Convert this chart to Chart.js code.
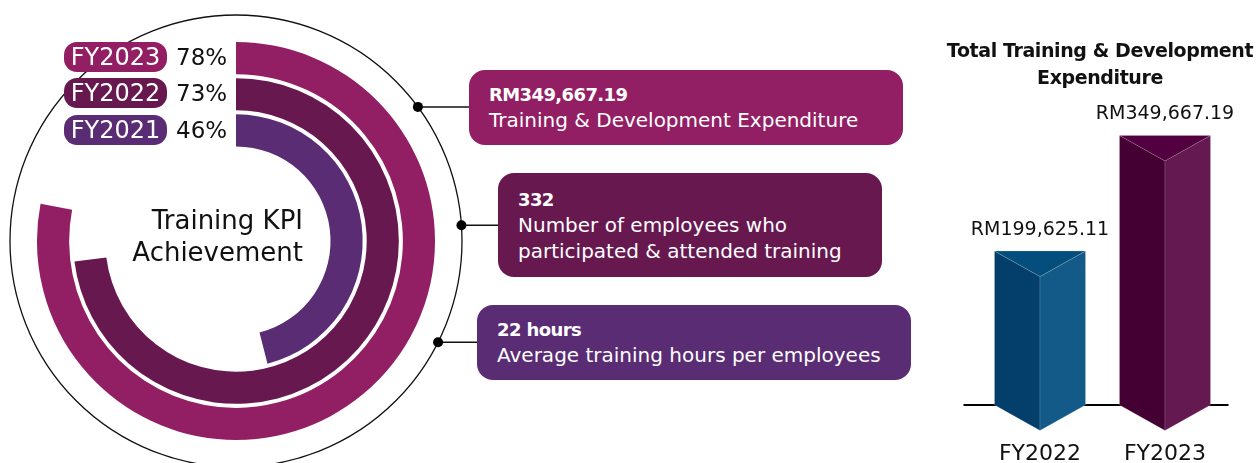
<!DOCTYPE html>
<html>
<head>
<meta charset="utf-8">
<script src="https://cdn.jsdelivr.net/npm/chart.js@4.4.0/dist/chart.umd.min.js"></script>
<style>
  html, body { margin: 0; padding: 0; background: #fff; }
  body { width: 1256px; height: 463px; position: relative; overflow: hidden; font-family: "DejaVu Sans", sans-serif; color: #111; }
  canvas { position: absolute; }
  #kpiChart { left: 0; top: 0; }
  #spendChart { left: 930px; top: 0; }
  .pill { position: absolute; left: 64px; width: 103px; height: 30px; border-radius: 13px; color: #fff; font-size: 24px; line-height: 30px; text-align: center; }
  .pct { position: absolute; left: 176px; height: 30px; font-size: 23px; line-height: 30px; }
  .center-text { position: absolute; left: 0; top: 204px; width: 303px; text-align: right; font-size: 26px; line-height: 32px; }
  .box { position: absolute; border-radius: 16px; color: #fff; box-sizing: border-box; white-space: nowrap; }
  .box .big { font-weight: bold; font-size: 18px; line-height: 24px; letter-spacing: -0.6px; }
  .box .txt { font-size: 20px; line-height: 26px; }
  .title { position: absolute; left: 900px; top: 37px; width: 400px; text-align: center; font-weight: bold; font-size: 19px; line-height: 27px; letter-spacing: -0.4px; white-space: nowrap; }
</style>
</head>
<body>
<canvas id="kpiChart" width="520" height="463"></canvas>
<canvas id="spendChart" width="326" height="463"></canvas>

<div id="pills"></div>
<div class="center-text">Training KPI<br>Achievement</div>

<div class="box" style="left:469px; top:70px; width:434px; height:75px; padding:13px 0 0 20px; background:#921f63;">
  <div class="big">RM349,667.19</div>
  <div class="txt">Training &amp; Development Expenditure</div>
</div>
<div class="box" style="left:498px; top:173px; width:384px; height:104px; padding:15px 0 0 20px; background:#66184f;">
  <div class="big">332</div>
  <div class="txt">Number of employees who</div>
  <div class="txt">participated &amp; attended training</div>
</div>
<div class="box" style="left:477px; top:305px; width:434px; height:75px; padding:13px 0 0 20px; background:#5a2c73;">
  <div class="big">22 hours</div>
  <div class="txt">Average training hours per employees</div>
</div>

<div class="title">Total Training &amp; Development<br>Expenditure</div>

<script>
// KPI rings (outer to inner)
const kpiYears = ['FY2023', 'FY2022', 'FY2021'];
const kpiValues = [78, 73, 46];

// expenditure bars
const spendYears = ['FY2022', 'FY2023'];
const spendValues = [199625.11, 349667.19];

const ringColors = ['#921f63', '#66184f', '#5a2c73'];
const prismColors = [
  { left: '#043f6b', right: '#135a88', top: '#044e7d' },
  { left: '#440033', right: '#641a51', top: '#52003f' }
];
// dots on the thin circle, angle in degrees and where the line stops (box edge)
const connectors = [
  { angle: -36.4, toX: 469 },
  { angle: -4, toX: 498 },
  { angle: 26.6, toX: 477 }
];

// year pills on the left
const pillTops = [42, 78, 115];
const pillBox = document.getElementById('pills');
kpiYears.forEach((y, i) => {
  const p = document.createElement('div');
  p.className = 'pill';
  p.style.top = pillTops[i] + 'px';
  p.style.background = ringColors[i];
  p.textContent = y;
  pillBox.appendChild(p);
  const t = document.createElement('div');
  t.className = 'pct';
  t.style.top = pillTops[i] + 'px';
  t.textContent = kpiValues[i] + '%';
  pillBox.appendChild(t);
});

const ringSets = [];
kpiValues.forEach((v, i) => {
  if (i > 0) {
    ringSets.push({ data: [100], backgroundColor: ['rgba(0,0,0,0)'], borderWidth: 0, weight: 4 });
  }
  ringSets.push({
    label: kpiYears[i],
    data: [v, 100 - v],
    backgroundColor: [ringColors[i], 'rgba(0,0,0,0)'],
    borderWidth: 0,
    weight: 32
  });
});

const ringDeco = {
  id: 'ringDeco',
  beforeDatasetsDraw(chart) {
    const arc = chart.getDatasetMeta(0).data[0];
    const ctx = chart.ctx;
    const r = arc.outerRadius + 27;
    ctx.save();
    ctx.strokeStyle = '#111';
    ctx.fillStyle = '#000';
    ctx.lineWidth = 1.3;
    ctx.beginPath();
    ctx.arc(arc.x, arc.y, r, 0, Math.PI * 2);
    ctx.stroke();
    connectors.forEach(c => {
      const a = c.angle * Math.PI / 180;
      const px = arc.x + r * Math.cos(a);
      const py = arc.y + r * Math.sin(a);
      ctx.lineWidth = 1.5;
      ctx.beginPath();
      ctx.moveTo(px, py);
      ctx.lineTo(c.toX, py);
      ctx.stroke();
      ctx.beginPath();
      ctx.arc(px, py, 5, 0, Math.PI * 2);
      ctx.fill();
    });
    ctx.restore();
  }
};

new Chart(document.getElementById('kpiChart'), {
  type: 'doughnut',
  data: { labels: ['achieved', 'remaining'], datasets: ringSets },
  options: {
    responsive: false,
    animation: false,
    events: [],
    radius: 199,
    cutout: '47.5%',
    layout: { padding: { top: 19, left: 0, right: 48, bottom: 0 } },
    plugins: { legend: { display: false }, tooltip: { enabled: false } }
  },
  plugins: [ringDeco]
});

function poly(ctx, pts, color) {
  ctx.beginPath();
  ctx.moveTo(pts[0][0], pts[0][1]);
  for (let k = 1; k < pts.length; k++) ctx.lineTo(pts[k][0], pts[k][1]);
  ctx.closePath();
  ctx.fillStyle = color;
  ctx.fill();
  ctx.strokeStyle = 'rgba(255,255,255,0.18)';
  ctx.lineWidth = 0.8;
  ctx.stroke();
}

const prismBars = {
  id: 'prismBars',
  beforeDatasetsDraw(chart) {
    const { ctx, chartArea, scales } = chart;
    const y0 = scales.y.getPixelForValue(0);
    ctx.save();
    ctx.strokeStyle = '#000';
    ctx.lineWidth = 2;
    ctx.beginPath();
    ctx.moveTo(chartArea.left - 14, y0);
    ctx.lineTo(chartArea.right + 1, y0);
    ctx.stroke();
    ctx.restore();
  },
  afterDatasetsDraw(chart) {
    const { ctx, scales } = chart;
    const meta = chart.getDatasetMeta(0);
    ctx.save();
    meta.data.forEach((bar, i) => {
      const hw = bar.width / 2;
      const d = bar.width * 0.28;
      const x = bar.x, top = bar.y, base = bar.base;
      const c = prismColors[i];
      poly(ctx, [[x - hw, top], [x, top + d], [x, base + d], [x - hw, base]], c.left);
      poly(ctx, [[x, top + d], [x + hw, top], [x + hw, base], [x, base + d]], c.right);
      poly(ctx, [[x - hw, top], [x + hw, top], [x, top + d]], c.top);

      const v = chart.data.datasets[0].data[i];
      ctx.fillStyle = '#111';
      ctx.font = '19px "DejaVu Sans"';
      ctx.textAlign = 'center';
      ctx.textBaseline = 'alphabetic';
      ctx.fillText('RM' + v.toLocaleString('en-US', { minimumFractionDigits: 2, maximumFractionDigits: 2 }), x, top - 16);

      ctx.font = '22px "DejaVu Sans"';
      ctx.fillText(chart.data.labels[i], scales.x.getPixelForValue(i), base + 55);
    });
    ctx.restore();
  }
};

new Chart(document.getElementById('spendChart'), {
  type: 'bar',
  data: {
    labels: spendYears,
    datasets: [{
      data: spendValues,
      backgroundColor: 'rgba(0,0,0,0)',
      borderWidth: 0,
      categoryPercentage: 1,
      barPercentage: 0.728
    }]
  },
  options: {
    responsive: false,
    animation: false,
    events: [],
    layout: { padding: { left: 47.5, right: 28.5, top: 96.6, bottom: 58 } },
    plugins: { legend: { display: false }, tooltip: { enabled: false } },
    scales: {
      x: { display: false },
      y: { display: false, min: 0, max: 400000 }
    }
  },
  plugins: [prismBars]
});
</script>
</body>
</html>
